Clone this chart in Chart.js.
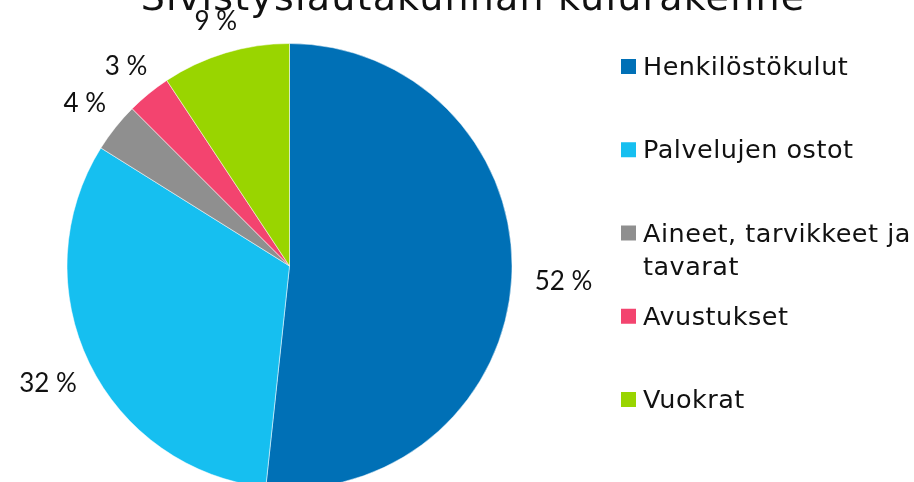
<!DOCTYPE html>
<html>
<head>
<meta charset="utf-8">
<script src="https://cdn.jsdelivr.net/npm/chart.js@4"></script>
<style>
  html, body { margin: 0; padding: 0; background: #fff; }
  #wrap { width: 914px; height: 482px; }
</style>
</head>
<body>
<div id="wrap"><canvas id="costChart" width="914" height="482"></canvas></div>
<script>
const chartTitle = "Sivistyslautakunnan kulurakenne";
const categories = ["Henkilöstökulut", "Palvelujen ostot", "Aineet, tarvikkeet ja tavarat", "Avustukset", "Vuokrat"];
const shares = [51.7, 32.2, 3.6, 3.2, 9.3];
const colors = ["#0070b6", "#16bff0", "#8f8f8f", "#f3446f", "#99d500"];

// labels, legend and title drawn on the canvas after the pie
const overlay = {
  id: "overlay",
  afterDraw(chart) {
    const ctx = chart.ctx;
    const meta = chart.getDatasetMeta(0);
    const total = shares.reduce((s, v) => s + v, 0);

    ctx.save();
    ctx.fillStyle = "#111";

    // title, cut by the top edge like in the original
    ctx.font = "38px 'DejaVu Sans'";
    ctx.letterSpacing = "1.2px";
    ctx.textAlign = "center";
    ctx.textBaseline = "alphabetic";
    ctx.fillText(chartTitle, 473, 10);

    // percentage labels outside the slices
    ctx.font = "26px Lato";
    ctx.letterSpacing = "0px";
    const capH = 18;
    meta.data.forEach((arc, i) => {
      const text = Math.round(shares[i] / total * 100) + " %";
      const w = ctx.measureText(text).width;
      const mid = (arc.startAngle + arc.endAngle) / 2;
      const dx = Math.cos(mid), dy = Math.sin(mid);
      const half = Math.min(
        Math.abs(dx) > 1e-6 ? (w / 2) / Math.abs(dx) : Infinity,
        Math.abs(dy) > 1e-6 ? (capH / 2 + 1) / Math.abs(dy) : Infinity
      );
      const r = arc.outerRadius + 23 + half;
      ctx.fillText(text, arc.x + dx * r, arc.y + dy * r + capH / 2);
    });

    // legend on the right
    ctx.font = "25.5px 'DejaVu Sans'";
    ctx.letterSpacing = "0.5px";
    ctx.textAlign = "left";
    const boxX = 621, box = 15, textX = 643;
    const firstBase = 75, step = 83.25, lineH = 33;
    const maxW = chart.width - textX - 2;
    categories.forEach((label, i) => {
      const base = firstBase + i * step;
      ctx.fillStyle = colors[i];
      ctx.fillRect(boxX, base - box - 1, box, box);
      ctx.fillStyle = "#111";
      const words = label.split(" ");
      let line = "", y = base;
      words.forEach(word => {
        const test = line ? line + " " + word : word;
        if (line && ctx.measureText(test).width > maxW) {
          ctx.fillText(line, textX, y);
          line = word;
          y += lineH;
        } else {
          line = test;
        }
      });
      ctx.fillText(line, textX, y);
    });
    ctx.restore();
  }
};

new Chart(document.getElementById("costChart"), {
  type: "pie",
  data: {
    labels: categories,
    datasets: [{
      data: shares,
      backgroundColor: colors,
      borderColor: "#ffffff",
      borderWidth: 0.5,
      radius: 222.5,
      clip: false
    }]
  },
  options: {
    responsive: false,
    animation: false,
    devicePixelRatio: 1,
    layout: { padding: { left: 73, right: 408, top: 50, bottom: 0 } },
    plugins: {
      legend: { display: false },
      title: { display: false },
      tooltip: { enabled: false }
    }
  },
  plugins: [overlay]
});
</script>
</body>
</html>
